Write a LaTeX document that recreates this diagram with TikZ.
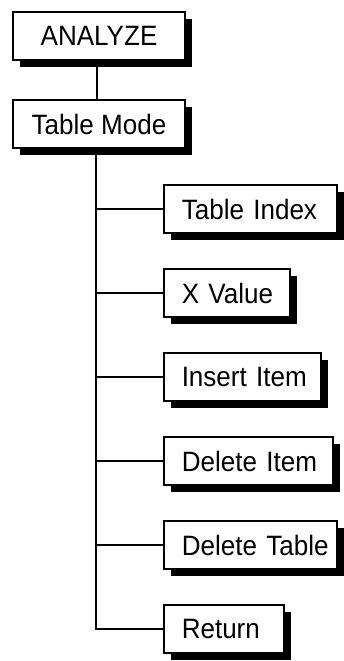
\documentclass[tikz,border=0pt]{standalone}
\usepackage{fontspec}
\setmainfont{Liberation Sans}[FakeStretch=0.93]
\usetikzlibrary{shadows}
\begin{document}
\begin{tikzpicture}[x=1pt,y=-1pt,
  box/.style={draw=black, line width=1.5pt, fill=white, minimum height=48pt, inner ysep=0pt,
    font=\fontsize{28}{30}\selectfont,
    drop shadow={shadow xshift=7pt, shadow yshift=-7pt, fill=black, opacity=1}},
  topbox/.style={box, minimum width=172pt},
  item/.style={box, anchor=west, align=left, inner xsep=18pt},
  link/.style={line width=1.5pt}]
\useasboundingbox (0,0) rectangle (343,661);
\node[topbox] (an) at (99,36) {ANALYZE};
\node[topbox] (tm) at (99,124) {Table Mode};
\node[item, text width=137pt] (ti) at (163,209) {\mbox{Table Index}};
\node[item, text width=90pt] (xv) at (163,293) {\mbox{X Value}};
\node[item, text width=121pt] (ii) at (163,377) {\mbox{Insert Item}};
\node[item, text width=133pt] (di) at (163,461) {\mbox{Delete Item}};
\node[item, text width=137pt] (dt) at (163,545) {\mbox{Delete Table}};
\node[item, text width=84pt] (re) at (163,629) {\mbox{Return}};
\coordinate (trunk) at ([xshift=-3pt]tm.south);
\draw[link] ([xshift=-2pt]an.south) -- ([xshift=-2pt]tm.north);
\draw[link] (trunk) |- (re.west);
\foreach \n in {ti,xv,ii,di,dt}
  \draw[link] (\n.west) -- (\n.west -| trunk);
\end{tikzpicture}
\end{document}
